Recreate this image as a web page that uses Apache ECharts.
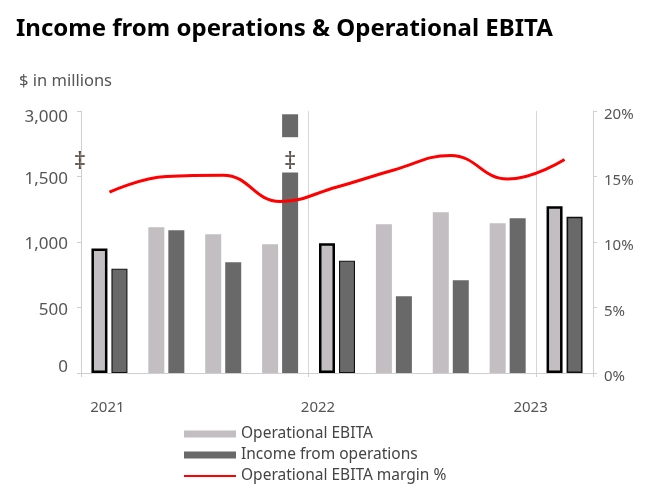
<!DOCTYPE html>
<html>
<head>
<meta charset="utf-8">
<script src="https://cdn.jsdelivr.net/npm/echarts@6/dist/echarts.min.js"></script>
<style>
  html, body { margin: 0; padding: 0; background: #fff; }
  #chart { width: 667px; height: 492px; }
</style>
</head>
<body>
<div id="chart"></div>
<script>
// ---- data ----
const categories = ['Q1 2021', 'Q2 2021', 'Q3 2021', 'Q4 2021', 'Q1 2022', 'Q2 2022', 'Q3 2022', 'Q4 2022', 'Q1 2023'];
const operationalEbita = [950, 1112, 1059, 982, 990, 1135, 1227, 1143, 1272];
const incomeFromOps = [796, 1089, 845, 2925, 857, 585, 708, 1181, 1193];
const ebitaMargin = [13.8, 15.0, 15.1, 13.1, 14.2, 15.5, 16.6, 14.8, 16.3];
const leftTickLabels = ['0', '500', '1,000', '1,500', '3,000'];
const rightTickLabels = ['0%', '5%', '10%', '15%', '20%'];
const yearLabels = ['2021', '2022', '2023'];
const yearStartIndex = [0, 4, 8];

// ---- axis break handling (display scale: above 1,500 compressed 3x) ----
const BREAK_AT = 1500, BREAK_FACTOR = 3;
function toDisplay(v) { return v <= BREAK_AT ? v : BREAK_AT + (v - BREAK_AT) / BREAK_FACTOR; }
const CUT_FROM = 1590, CUT_TO = 2400; // where a tall bar is cut
const isCut = v => v > CUT_TO;

const incomeLow = incomeFromOps.map(v => isCut(v) ? toDisplay(CUT_FROM) : toDisplay(v));
const incomeGap = incomeFromOps.map(v => isCut(v) ? toDisplay(CUT_TO) - toDisplay(CUT_FROM) : null);
const incomeTop = incomeFromOps.map(v => isCut(v) ? toDisplay(v) - toDisplay(CUT_TO) : null);

const EBITA_COLOR = '#c2bec1';
const INCOME_COLOR = '#696969';
const FONT = 'Noto Sans';

const ebitaData = operationalEbita.map((v, i) => {
  const d = { value: toDisplay(v) };
  if (yearStartIndex.includes(i)) d.itemStyle = { borderColor: '#000', borderWidth: 2.5 };
  return d;
});
const incomeLowData = incomeLow.map((v, i) => {
  const d = { value: v };
  if (yearStartIndex.includes(i)) d.itemStyle = { borderColor: '#111', borderWidth: i === 8 ? 1.6 : 1.1 };
  return d;
});

const chart = echarts.init(document.getElementById('chart'), null, { renderer: 'canvas' });

const option = {
  animation: false,
  backgroundColor: '#fff',
  textStyle: { fontFamily: FONT },
  title: [
    {
      text: 'Income from operations & Operational EBITA',
      left: 16, top: 17, padding: 0,
      textStyle: { fontFamily: FONT, fontWeight: 'bold', fontSize: 24, color: '#000' }
    },
    {
      text: '$ in millions',
      left: 19, top: 73, padding: 0,
      textStyle: { fontFamily: FONT, fontWeight: 'normal', fontSize: 16.5, color: '#555' }
    }
  ],
  legend: {
    orient: 'vertical',
    left: 178, top: 421,
    itemWidth: 52, itemHeight: 7, itemGap: 5,
    textStyle: { fontFamily: FONT, fontSize: 15.5, color: '#444' },
    data: [
      { name: 'Operational EBITA', icon: 'rect' },
      { name: 'Income from operations', icon: 'rect' },
      { name: 'Operational EBITA margin %', itemStyle: { opacity: 0 } }
    ]
  },
  grid: { left: 81, right: 74, top: 111, bottom: 119, containLabel: false },
  xAxis: {
    type: 'category',
    data: categories,
    boundaryGap: true,
    axisLine: { show: true, lineStyle: { color: '#cfcfcf', width: 1 } },
    axisTick: {
      show: true, length: 4,
      interval: (i) => yearStartIndex.includes(i),
      lineStyle: { color: '#cfcfcf' }
    },
    splitLine: {
      show: true,
      interval: (i) => i > 0 && yearStartIndex.includes(i),
      lineStyle: { color: '#d6d6d6', width: 1 }
    },
    axisLabel: {
      margin: 27,
      interval: (i) => yearStartIndex.includes(i),
      formatter: (val, i) => {
        const k = yearStartIndex.indexOf(i);
        return k < 0 ? '' : '{y' + k + '|' + yearLabels[k] + '}';
      },
      rich: {
        y0: { fontFamily: FONT, fontSize: 15, color: '#555', padding: [0, 4, 0, 0] },
        y1: { fontFamily: FONT, fontSize: 15, color: '#555', padding: [0, 38, 0, 0] },
        y2: { fontFamily: FONT, fontSize: 15, color: '#555', padding: [0, 68, 0, 0] }
      }
    }
  },
  yAxis: [
    {
      type: 'value',
      min: 0, max: 2000, interval: 500,
      axisLine: { show: true, lineStyle: { color: '#cfcfcf' } },
      axisTick: { show: true, length: 4, lineStyle: { color: '#cfcfcf' } },
      splitLine: { show: false },
      axisLabel: {
        margin: 13,
        formatter: (v) => {
          const k = Math.round(v / 500);
          const key = k === 4 ? 't' : (k === 0 ? 'b' : 'm');
          return '{' + key + '|' + leftTickLabels[k] + '}';
        },
        rich: {
          t: { fontFamily: FONT, fontSize: 17, color: '#555', padding: [12, 0, 0, 0] },
          m: { fontFamily: FONT, fontSize: 17, color: '#555', padding: [5, 0, 0, 0] },
          b: { fontFamily: FONT, fontSize: 17, color: '#555', padding: [0, 0, 12, 0] }
        }
      }
    },
    {
      type: 'value',
      min: 0, max: 20, interval: 5,
      position: 'right',
      axisLine: { show: true, lineStyle: { color: '#cfcfcf' } },
      axisTick: { show: true, length: 4, lineStyle: { color: '#cfcfcf' } },
      splitLine: { show: false },
      axisLabel: {
        margin: 11,
        formatter: (v) => '{r|' + rightTickLabels[Math.round(v / 5)] + '}',
        rich: { r: { fontFamily: FONT, fontSize: 15, color: '#555', padding: [8, 0, 0, 0] } }
      }
    }
  ],
  series: [
    {
      name: 'Operational EBITA',
      type: 'bar', stack: 'ebita',
      barWidth: 16, barGap: '25%',
      itemStyle: { color: EBITA_COLOR },
      data: ebitaData
    },
    {
      name: 'Income from operations',
      type: 'bar', stack: 'income',
      barWidth: 16,
      itemStyle: { color: INCOME_COLOR },
      data: incomeLowData
    },
    {
      name: 'cut',
      type: 'bar', stack: 'income',
      barWidth: 16,
      itemStyle: { color: 'rgba(0,0,0,0)' },
      data: incomeGap
    },
    {
      name: 'Income from operations',
      type: 'bar', stack: 'income',
      barWidth: 16,
      itemStyle: { color: INCOME_COLOR },
      data: incomeTop
    },
    {
      name: 'Operational EBITA margin %',
      type: 'line',
      yAxisIndex: 1,
      smooth: 0.45,
      symbol: 'none',
      z: 10,
      lineStyle: { color: '#ff0000', width: 3 },
      itemStyle: { color: '#ff0000' },
      data: ebitaMargin
    }
  ]
};

chart.setOption(option);

// break marks (‡) on the axis and on the cut bar
const markY = chart.convertToPixel({ yAxisIndex: 0 }, toDisplay(1880)) + 2;
const cutIndex = incomeFromOps.findIndex(isCut);
const catX = chart.convertToPixel({ xAxisIndex: 0 }, cutIndex);
const axisX = chart.convertToPixel({ xAxisIndex: 0 }, 0) - (chart.convertToPixel({ xAxisIndex: 0 }, 1) - chart.convertToPixel({ xAxisIndex: 0 }, 0)) / 2;
const markStyle = { text: '‡', fontFamily: FONT, fontSize: 24, fill: '#5a4f45', align: 'center', verticalAlign: 'middle' };
chart.setOption({
  graphic: [
    { type: 'text', x: axisX - 1, y: markY, z: 100, style: markStyle },
    { type: 'text', x: catX + 10, y: markY, z: 100, style: markStyle }
  ]
});
</script>
</body>
</html>
